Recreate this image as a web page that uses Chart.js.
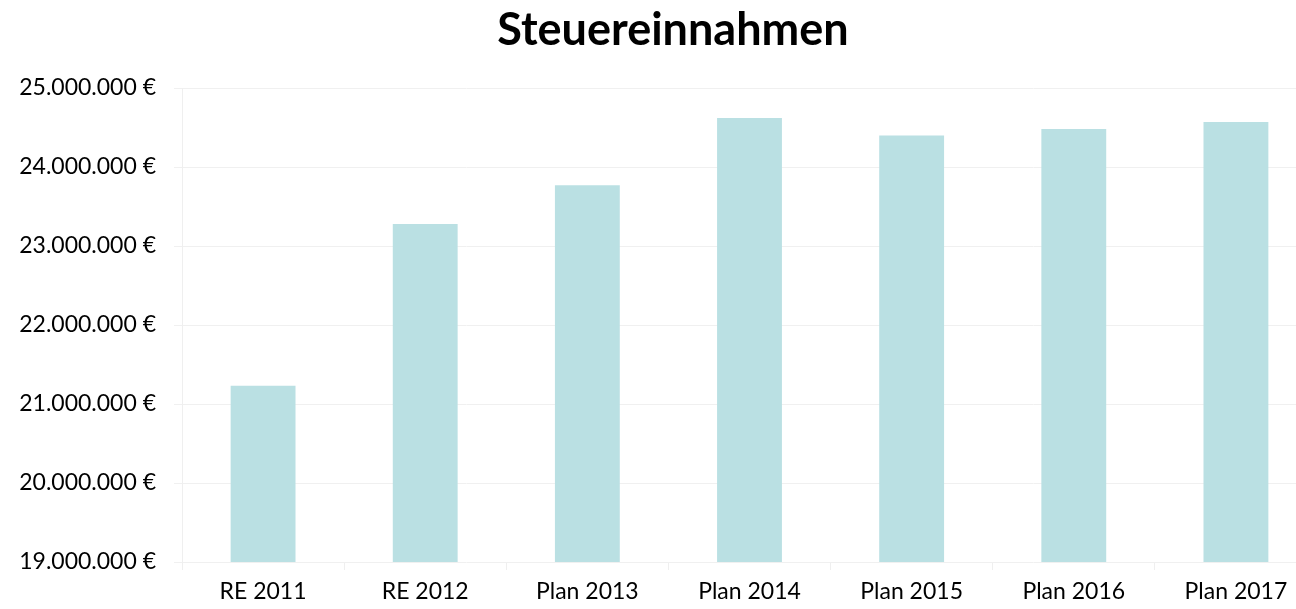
<!DOCTYPE html>
<html>
<head>
<meta charset="utf-8">
<script src="https://cdn.jsdelivr.net/npm/chart.js@4/dist/chart.umd.min.js"></script>
<style>
  html, body { margin: 0; padding: 0; background: #fff; overflow: hidden; }
  #wrap { width: 1296px; height: 609px; overflow: hidden; position: relative; }
  #box { position: absolute; left: 0; top: 0; width: 1344px; height: 609px; }
</style>
</head>
<body>
<div id="wrap"><div id="box"><canvas id="c"></canvas></div></div>
<script>
const categories = ["RE 2011", "RE 2012", "Plan 2013", "Plan 2014", "Plan 2015", "Plan 2016", "Plan 2017"];
const steuereinnahmen = [21230000, 23280000, 23770000, 24620000, 24400000, 24480000, 24570000];
const yMin = 19000000;
const yMax = 25000000;
const yStep = 1000000;
const chartTitle = "Steuereinnahmen";

function fmtEuro(v) {
  const s = Math.round(v).toString().replace(/\B(?=(\d{3})+(?!\d))/g, ".");
  return s + " \u20AC";
}

const FONT = "Lato";

// Title drawn centred over the whole original figure (incl. the cropped right margin)
const titlePlugin = {
  id: "figureTitle",
  afterDraw(chart) {
    const ctx = chart.ctx;
    ctx.save();
    ctx.font = "bold 45px " + FONT;
    ctx.fillStyle = "#000";
    ctx.textAlign = "center";
    ctx.textBaseline = "middle";
    ctx.fillText(chartTitle, 673, 30);
    ctx.restore();
  }
};

new Chart(document.getElementById("c"), {
  type: "bar",
  data: {
    labels: categories,
    datasets: [{
      label: chartTitle,
      data: steuereinnahmen,
      backgroundColor: "rgb(186,224,227)",
      borderWidth: 0,
      categoryPercentage: 1.0,
      barPercentage: 0.4
    }]
  },
  options: {
    responsive: true,
    maintainAspectRatio: false,
    animation: false,
    layout: { padding: { left: 0, right: 27, top: 88, bottom: 0 } },
    plugins: {
      legend: { display: false },
      tooltip: { enabled: false },
      title: { display: false }
    },
    scales: {
      x: {
        offset: true,
        grid: { display: true, drawOnChartArea: false, drawTicks: true, tickLength: 8, color: "#efefef", offset: true },
        border: { display: false },
        ticks: { color: "#000", font: { family: FONT, size: 23 }, padding: 8, maxRotation: 0 },
        afterFit: (s) => { s.height = 47; }
      },
      y: {
        min: yMin,
        max: yMax,
        grid: { color: "#f0f0f0", tickLength: 8, drawTicks: true },
        border: { display: true, color: "#efefef" },
        ticks: { stepSize: yStep, color: "#000", font: { family: FONT, size: 23 }, padding: 18, callback: (v) => fmtEuro(v) },
        afterFit: (s) => { s.width = 182; }
      }
    }
  },
  plugins: [titlePlugin]
});
</script>
</body>
</html>
